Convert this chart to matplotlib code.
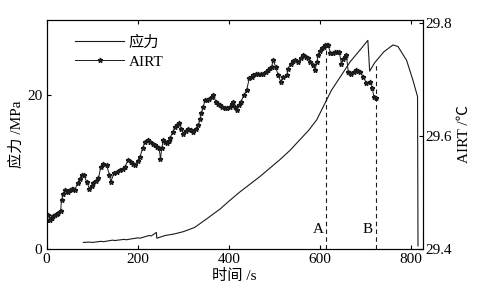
import matplotlib
matplotlib.use("Agg")
import matplotlib.pyplot as plt

plt.rcParams['font.family'] = ['Liberation Serif', 'Noto Sans CJK SC']
plt.rcParams['font.size'] = 11

# stress curve (left axis, MPa)
stress_t = [81, 95, 100, 120, 125, 145, 150, 170, 175, 200, 205, 225, 230, 241, 242,
            260, 280, 300, 325, 351, 381, 400, 424, 446, 468, 490, 512, 534, 556,
            575, 593, 614, 625, 645, 666, 690, 705, 709, 720, 740, 760, 771, 790,
            804, 814, 815]
stress = [0.85, 0.9, 0.85, 1.0, 0.95, 1.15, 1.1, 1.25, 1.2, 1.45, 1.4, 1.75, 1.7, 2.15, 1.4,
          1.75, 1.95, 2.25, 2.8, 3.9, 5.2, 6.2, 7.4, 8.4, 9.4, 10.5, 11.6, 12.8, 14.2,
          15.4, 16.8, 19.3, 20.6, 22.4, 24.3, 26.0, 27.1, 23.1, 24.2, 25.6, 26.5, 26.3, 24.5,
          21.9, 19.8, 0.4]

# AIRT (right axis, degC)
airt_t = [0, 4, 8, 11, 15, 19, 23, 26, 31, 33, 37, 41, 45, 48, 52, 55, 59, 62, 68, 73,
          77, 82, 88, 94, 99, 103, 109, 114, 119, 125, 132, 138, 141, 148, 155, 161, 167,
          172, 179, 185, 190, 194, 200, 205, 211, 216, 222, 227, 233, 238, 243, 247, 250,
          253, 256, 260, 264, 268, 271, 277, 282, 287, 291, 296, 300, 306, 311, 317, 322,
          328, 333, 337, 340, 344, 348, 353, 357, 362, 366, 372, 376, 380, 386, 391, 396,
          402, 406, 410, 414, 417, 422, 426, 433, 439, 445, 450, 454, 459, 464, 470, 475,
          481, 486, 491, 494, 497, 503, 508, 514, 519, 527, 530, 536, 541, 545, 552, 558,
          563, 569, 574, 579, 584, 589, 593, 596, 600, 604, 608, 611, 615, 618, 623, 628,
          633, 638, 642, 647, 651, 655, 658, 662, 666, 669, 675, 680, 684, 688, 695, 702,
          709, 715, 718, 722]
airt = [29.451, 29.460, 29.452, 29.454, 29.458, 29.460, 29.462, 29.464, 29.468, 29.487,
        29.497, 29.504, 29.502, 29.501, 29.505, 29.507, 29.506, 29.504, 29.516, 29.524,
        29.531, 29.531, 29.519, 29.507, 29.512, 29.516, 29.521, 29.525, 29.545, 29.551,
        29.548, 29.531, 29.519, 29.534, 29.537, 29.540, 29.542, 29.545, 29.557, 29.554,
        29.551, 29.548, 29.556, 29.563, 29.578, 29.590, 29.592, 29.590, 29.586, 29.584,
        29.581, 29.578, 29.560, 29.578, 29.593, 29.590, 29.587, 29.591, 29.596, 29.607,
        29.616, 29.619, 29.622, 29.612, 29.604, 29.609, 29.613, 29.610, 29.607, 29.613,
        29.619, 29.630, 29.640, 29.652, 29.663, 29.664, 29.666, 29.668, 29.672, 29.660,
        29.657, 29.654, 29.651, 29.649, 29.650, 29.651, 29.656, 29.660, 29.652, 29.646,
        29.654, 29.660, 29.672, 29.681, 29.702, 29.705, 29.707, 29.709, 29.710, 29.709,
        29.710, 29.713, 29.716, 29.720, 29.722, 29.734, 29.722, 29.707, 29.696, 29.704,
        29.707, 29.719, 29.728, 29.732, 29.734, 29.731, 29.738, 29.743, 29.740, 29.737,
        29.731, 29.726, 29.716, 29.730, 29.743, 29.750, 29.755, 29.758, 29.760, 29.760,
        29.760, 29.746, 29.747, 29.749, 29.748, 29.749, 29.728, 29.736, 29.740, 29.743,
        29.713, 29.712, 29.710, 29.713, 29.716, 29.715, 29.713, 29.704, 29.693, 29.696,
        29.684, 29.669, 29.667]

# marked instants A and B
mark_t = [614, 722]
mark_top = [29.752, 29.727]
mark_labels = ["A", "B"]

fig = plt.figure(figsize=(4.78, 2.89), dpi=100)
ax = fig.add_axes([0.0973, 0.1384, 0.7867, 0.7924])
ax2 = ax.twinx()

l1, = ax.plot(stress_t, stress, color="#1a1a1a", lw=0.8, label="应力")
l2, = ax2.plot(airt_t, airt, color="#1a1a1a", lw=0.7, marker="*", ms=3.5,
               mec="#1a1a1a", mfc="#3a4a4a", label="AIRT")

for t, top, lab in zip(mark_t, mark_top, mark_labels):
    ax2.plot([t, t], [29.4, top], color="#1a1a1a", lw=0.8, ls=(0, (4, 3)))
    ax2.text(t - 6, 29.435, lab, ha="right", va="center", fontsize=11)

ax.set_xlim(0, 825)
ax.set_ylim(0, 29.74)
ax2.set_ylim(29.4, 29.805)
ax.set_xticks([0, 200, 400, 600, 800])
ax.set_yticks([0, 20])
ax2.set_yticks([29.4, 29.6, 29.8])
ax2.set_yticklabels(["29.4", "29.6", "29.8"])
ax.tick_params(direction="in", top=True, length=3, pad=3)
ax2.tick_params(direction="in", length=3, pad=2)

ax.set_xlabel("时间 /s", labelpad=2)
ax.set_ylabel("应力 /MPa", labelpad=2)
ax2.set_ylabel("AIRT /℃", labelpad=4)

ax.legend(handles=[l1, l2], loc="upper left", bbox_to_anchor=(0.06, 0.96),
          frameon=False, handlelength=3.2, handletextpad=0.3, numpoints=1,
          borderaxespad=0, labelspacing=0.35)

fig.savefig("out.png", dpi=100)
